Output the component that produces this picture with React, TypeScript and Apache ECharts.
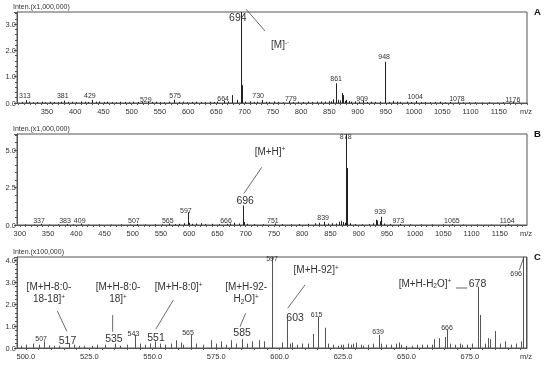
import React, { useEffect, useRef } from "react";
import * as echarts from "echarts";

// ---------------- Panel A (x1,000,000) ----------------
const xTicksA = [350, 400, 450, 500, 550, 600, 650, 700, 750, 800, 850, 900, 950, 1000, 1050, 1100, 1150];
const mainPeaksA: number[][] = [
  [694, 3.46], [695, 0.68], [678, 0.3], [686, 0.12],
  [948, 1.57], [949, 0.28], [861, 0.75], [862, 0.57], [857, 0.14], [866, 0.12], [873, 0.38], [875, 0.3], [880, 0.12],
  [313, 0.11], [381, 0.09], [429, 0.12], [529, 0.06], [575, 0.13], [664, 0.08], [730, 0.11], [779, 0.08],
  [909, 0.1], [1004, 0.08], [1078, 0.06], [1176, 0.06], [962, 0.08], [988, 0.05],
];
const minorPeaksA: number[][] = [
  [305, 0.04], [318, 0.05], [326, 0.03], [333, 0.04], [341, 0.05], [347, 0.03], [356, 0.05], [362, 0.04], [369, 0.03],
  [375, 0.05], [388, 0.04], [395, 0.05], [402, 0.04], [410, 0.06], [417, 0.05], [423, 0.04], [436, 0.05], [443, 0.06],
  [451, 0.04], [457, 0.05], [465, 0.04], [472, 0.03], [480, 0.05], [488, 0.04], [496, 0.03], [503, 0.05], [511, 0.04],
  [518, 0.03], [536, 0.04], [543, 0.05], [551, 0.04], [558, 0.03], [566, 0.05], [583, 0.04], [591, 0.05], [598, 0.03],
  [606, 0.04], [614, 0.05], [622, 0.04], [630, 0.03], [638, 0.05], [646, 0.04], [652, 0.05], [671, 0.06], [701, 0.05],
  [709, 0.06], [716, 0.04], [722, 0.05], [737, 0.05], [744, 0.04], [752, 0.06], [760, 0.04], [768, 0.03], [786, 0.04],
  [794, 0.05], [803, 0.04], [812, 0.05], [820, 0.04], [828, 0.05], [836, 0.06], [843, 0.05], [849, 0.07], [853, 0.06],
  [869, 0.1], [878, 0.08], [884, 0.07], [889, 0.05], [895, 0.06], [902, 0.05], [916, 0.04], [924, 0.05], [931, 0.04],
  [939, 0.05], [955, 0.04], [969, 0.05], [976, 0.04], [995, 0.04], [1012, 0.03], [1020, 0.04], [1028, 0.03], [1037, 0.04],
  [1046, 0.05], [1055, 0.03], [1064, 0.04], [1086, 0.03], [1097, 0.03], [1108, 0.03], [1120, 0.02], [1133, 0.03],
  [1146, 0.02], [1158, 0.03], [1168, 0.02], [1185, 0.02],
];
const smallLabelsA: [number, number, string][] = [
  [311, 0.27, "313"], [378, 0.27, "381"], [426, 0.3, "429"], [525, 0.15, "529"], [577, 0.3, "575"],
  [662, 0.19, "664"], [724, 0.27, "730"], [782, 0.19, "779"], [908, 0.19, "909"], [1002, 0.23, "1004"],
  [1076, 0.19, "1078"], [1175, 0.15, "1176"], [862, 0.95, "861"], [947, 1.75, "948"],
];
const bigLabelsA: [number, number, string][] = [[688, 3.28, "694"]];
const notesA: [number, number, string][] = [[763, 2.21, "[M]{p|-·}"]];
const leadersA: number[][] = [[702.5, 3.57, 736, 2.74]];

// ---------------- Panel B (x1,000,000) ----------------
const xTicksB = [300, 350, 400, 450, 500, 550, 600, 650, 700, 750, 800, 850, 900, 950, 1000, 1050, 1100, 1150];
const mainPeaksB: number[][] = [
  [878, 6.07], [879, 3.8], [696, 1.3], [697, 0.2], [597, 0.85], [598, 0.55], [939, 0.55], [937, 0.25],
];
const minorPeaksB: number[][] = [
  [310, 0.04], [325, 0.03], [337, 0.08], [352, 0.03], [368, 0.04], [383, 0.07], [395, 0.04], [409, 0.1], [421, 0.03],
  [440, 0.04], [462, 0.03], [480, 0.04], [495, 0.03], [507, 0.07], [522, 0.04], [540, 0.05], [552, 0.04], [565, 0.1],
  [575, 0.06], [582, 0.08], [590, 0.12], [600, 0.15], [605, 0.08], [612, 0.1], [620, 0.12], [628, 0.06], [640, 0.08],
  [652, 0.06], [666, 0.08], [672, 0.1], [680, 0.15], [688, 0.1], [702, 0.08], [715, 0.06], [730, 0.05], [751, 0.1],
  [765, 0.06], [780, 0.05], [795, 0.06], [810, 0.08], [822, 0.12], [830, 0.15], [839, 0.22], [845, 0.1], [852, 0.12],
  [860, 0.1], [866, 0.22], [869, 0.28], [872, 0.2], [875, 0.15], [884, 0.12], [893, 0.06], [905, 0.05], [918, 0.06],
  [925, 0.12], [930, 0.35], [933, 0.3], [945, 0.1], [955, 0.06], [973, 0.07], [990, 0.05], [1010, 0.04], [1030, 0.04],
  [1050, 0.04], [1065, 0.06], [1085, 0.03], [1110, 0.03], [1135, 0.03], [1164, 0.06], [1180, 0.03],
];
const smallLabelsB: [number, number, string][] = [
  [334, 0.27, "337"], [380, 0.27, "383"], [406, 0.33, "409"], [502, 0.27, "507"], [562, 0.27, "565"],
  [594, 1.0, "597"], [665, 0.27, "666"], [748, 0.33, "751"], [837, 0.47, "839"], [877, 5.87, "878"],
  [938, 0.87, "939"], [970, 0.27, "973"], [1065, 0.27, "1065"], [1163, 0.27, "1164"],
];
const bigLabelsB: [number, number, string][] = [[699, 1.67, "696"]];
const notesB: [number, number, string][] = [[743, 4.93, "[M+H]{p|+}"]];
const leadersB: number[][] = [[728.3, 3.85, 696.9, 2.11]];

// ---------------- Panel C (x100,000) ----------------
const xTicksC = [500, 525, 550, 575, 600, 625, 650, 675];
const mainPeaksC: number[][] = [
  [597, 4.14], [696, 4.14], [697, 4.14], [678, 2.79], [679, 1.5], [603, 1.27], [615, 1.42], [618, 0.92], [613, 0.64],
  [639, 0.6], [666, 0.82], [665, 0.5], [663, 0.45], [661, 0.4], [685, 0.77], [682, 0.45], [683, 0.4],
  [543, 0.6], [565, 0.6], [585, 0.4], [551, 0.3], [507, 0.3],
];
const minorPeaksC: number[][] = [
  [498, 0.1], [500, 0.15], [503, 0.2], [505, 0.15], [509, 0.12], [511, 0.1], [513, 0.1], [517, 0.2], [519, 0.15],
  [521, 0.1], [523, 0.1], [526, 0.1], [528, 0.15], [531, 0.15], [535, 0.2], [537, 0.1], [540, 0.15], [545, 0.2],
  [547, 0.15], [549, 0.2], [553, 0.2], [555, 0.15], [557, 0.2], [559, 0.35], [561, 0.25], [562, 0.15], [567, 0.2],
  [570, 0.15], [573, 0.35], [575, 0.2], [577, 0.3], [579, 0.15], [581, 0.35], [583, 0.2], [587, 0.2], [589, 0.3],
  [592, 0.35], [594, 0.3], [601, 0.25], [604, 0.2], [605, 0.25], [607, 0.15], [609, 0.2], [611, 0.2], [619, 0.2],
  [621, 0.15], [623, 0.1], [624, 0.15], [625, 0.15], [627, 0.2], [628, 0.15], [629, 0.2], [630, 0.25], [632, 0.15],
  [633, 0.1], [635, 0.15], [637, 0.2], [640, 0.2], [642, 0.15], [644, 0.15], [646, 0.2], [647, 0.25], [648, 0.15],
  [650, 0.1], [652, 0.1], [654, 0.15], [656, 0.15], [658, 0.15], [660, 0.15], [667, 0.2], [669, 0.15], [671, 0.2],
  [672, 0.15], [674, 0.15], [676, 0.2], [681, 0.2], [687, 0.2], [689, 0.3], [691, 0.15], [693, 0.2], [695, 0.3],
];
const smallLabelsC: [number, number, string][] = [
  [506, 0.41, "507"], [542.4, 0.68, "543"], [563.9, 0.71, "565"], [597, 4.09, "597"], [614.6, 1.53, "615"],
  [638.8, 0.74, "639"], [666, 0.92, "666"], [693.2, 3.4, "696"],
];
const bigLabelsC: [number, number, string][] = [
  [516.4, 0.36, "517"], [534.7, 0.45, "535"], [551.3, 0.51, "551"], [585.2, 0.71, "585"], [606.1, 1.42, "603"],
  [678, 2.94, "678"],
];
const notesC: [number, number, string][] = [
  [509.1, 2.51, "[M+H-8:0-\n18-18]{p|+}"],
  [536.3, 2.51, "[M+H-8:0-\n18]{p|+}"],
  [560.2, 2.79, "[M+H-8:0]{p|+}"],
  [586.8, 2.51, "[M+H-92-\nH{b|2}O]{p|+}"],
  [614.4, 3.55, "[M+H-92]{p|+}"],
  [657.3, 2.94, "[M+H-H{b|2}O]{p|+}"],
];
const leadersC: number[][] = [
  [512.4, 1.68, 516.1, 0.77],
  [534.2, 1.5, 534.2, 0.74],
  [558.1, 2.18, 551.2, 0.86],
  [586.6, 1.58, 584.4, 0.97],
  [610, 2.87, 603.2, 1.81],
  [669.5, 2.73, 673.9, 2.73],
  [694.5, 3.55, 696.3, 4.15],
];

const FONT = "'Liberation Sans', Arial, sans-serif";
const TEXT = "#333";

const panels = [
  { letter: "A", unit: "Inten.(x1,000,000)", top: 12, xMin: 297, xMax: 1200, yMax: 3.46, yInt: 1, xTicks: xTicksA, xDec: 0, tickStep: 10,
    peaks: [...minorPeaksA, ...mainPeaksA], color: "#222", small: smallLabelsA, big: bigLabelsA, notes: notesA, leaders: leadersA },
  { letter: "B", unit: "Inten.(x1,000,000)", top: 134, xMin: 295, xMax: 1198, yMax: 6.07, yInt: 2.5, xTicks: xTicksB, xDec: 0, tickStep: 10,
    peaks: [...minorPeaksB, ...mainPeaksB], color: "#222", small: smallLabelsB, big: bigLabelsB, notes: notesB, leaders: leadersB },
  { letter: "C", unit: "Inten.(x100,000)", top: 257, xMin: 496.5, xMax: 697.5, yMax: 4.14, yInt: 1, xTicks: xTicksC, xDec: 1, tickStep: 5,
    peaks: [...minorPeaksC, ...mainPeaksC], color: "#555", small: smallLabelsC, big: bigLabelsC, notes: notesC, leaders: leadersC },
];

const GRID_LEFT = 17;
const GRID_RIGHT = 23;
const GRID_H = 91;

function textSeries(gi: number, items: [number, number, string][], fontSize: number, lineHeight: number) {
  const sub = fontSize * 0.65;
  return {
    type: "custom",
    xAxisIndex: gi,
    yAxisIndex: gi,
    z: 5,
    silent: true,
    itemStyle: { color: TEXT },
    encode: { x: 0, y: 1 },
    data: items.map((d) => [d[0], d[1]]),
    renderItem: (params: any, api: any) => {
      const p = api.coord([api.value(0), api.value(1)]);
      const item = items[params.dataIndex];
      return {
        type: "text",
        x: p[0],
        y: p[1],
        style: {
          text: item[2],
          fill: TEXT,
          fontSize,
          fontFamily: FONT,
          align: "center",
          verticalAlign: "middle",
          lineHeight,
          rich: {
            p: { fontSize: sub, verticalAlign: "top", lineHeight, fontFamily: FONT, fill: TEXT },
            b: { fontSize: sub, verticalAlign: "bottom", lineHeight, fontFamily: FONT, fill: TEXT },
          },
        },
      };
    },
  };
}

export default function App() {
  const ref = useRef<HTMLDivElement>(null);
  useEffect(() => {
    if (!ref.current) return;
    const chart = echarts.init(ref.current, undefined, { renderer: "svg" });
    const grid: any[] = [];
    const xAxis: any[] = [];
    const yAxis: any[] = [];
    const series: any[] = [];
    const graphic: any[] = [];

    panels.forEach((pn, gi) => {
      grid.push({
        left: GRID_LEFT, right: GRID_RIGHT, top: pn.top, height: GRID_H,
        show: true, borderColor: "#555", borderWidth: 1, backgroundColor: "transparent",
      });
      const minorTicks: number[] = [];
      for (let v = Math.ceil(pn.xMin / pn.tickStep) * pn.tickStep; v <= pn.xMax; v += pn.tickStep) minorTicks.push(v);
      xAxis.push({
        type: "value", gridIndex: gi, min: pn.xMin, max: pn.xMax,
        axisLine: { show: true, lineStyle: { color: "#555", width: 1 } },
        axisTick: { show: true, customValues: minorTicks, length: 2, lineStyle: { color: "#555" } },
        axisLabel: {
          show: true, customValues: pn.xTicks, margin: 4, fontSize: 7.5, color: TEXT, fontFamily: FONT,
          formatter: (v: number) => v.toFixed(pn.xDec),
        },
        splitLine: { show: false },
      });
      yAxis.push({
        type: "value", gridIndex: gi, min: 0, max: pn.yMax, interval: pn.yInt,
        axisLine: { show: true, lineStyle: { color: "#555", width: 1 } },
        axisTick: { show: true, length: 3, lineStyle: { color: "#555" } },
        minorTick: { show: true, splitNumber: 5, length: 2, lineStyle: { color: "#555" } },
        axisLabel: {
          show: true, margin: 1, fontSize: 7.5, color: TEXT, fontFamily: FONT, showMaxLabel: false,
          formatter: (v: number) => v.toFixed(1),
        },
        splitLine: { show: false },
      });
      const color = pn.color;
      series.push({
        type: "custom", xAxisIndex: gi, yAxisIndex: gi, silent: true, encode: { x: 0, y: 1 },
        itemStyle: { color },
        data: pn.peaks,
        renderItem: (params: any, api: any) => {
          const x = api.value(0);
          const y = api.value(1);
          const p0 = api.coord([x, 0]);
          const p1 = api.coord([x, y]);
          const cs = params.coordSys;
          const px = Math.round(p0[0]) + 0.5;
          return {
            type: "line",
            shape: { x1: px, y1: p0[1], x2: px, y2: Math.max(p1[1], cs.y) },
            style: { stroke: color, lineWidth: 1 },
          };
        },
      });
      series.push({
        type: "custom", xAxisIndex: gi, yAxisIndex: gi, silent: true, z: 4, encode: { x: [0, 2], y: [1, 3] },
        itemStyle: { color: "#444" },
        data: pn.leaders,
        renderItem: (params: any, api: any) => {
          const a = api.coord([api.value(0), api.value(1)]);
          const b = api.coord([api.value(2), api.value(3)]);
          return { type: "line", shape: { x1: a[0], y1: a[1], x2: b[0], y2: b[1] }, style: { stroke: "#444", lineWidth: 0.8 } };
        },
      });
      series.push(textSeries(gi, pn.small, 7, 8));
      series.push(textSeries(gi, pn.big, 10.5, 12));
      series.push(textSeries(gi, pn.notes, 10, 12));

      graphic.push({
        type: "text", left: 13, top: pn.top - 9,
        style: { text: pn.unit, fontSize: 7, fill: TEXT, fontFamily: FONT },
      });
      graphic.push({
        type: "text", left: 534, top: pn.top - 6,
        style: { text: pn.letter, fontSize: 9.5, fontWeight: "bold", fill: "#111", fontFamily: FONT },
      });
      graphic.push({
        type: "text", left: 520, top: pn.top + GRID_H + 4,
        style: { text: "m/z", fontSize: 7.5, fill: TEXT, fontFamily: FONT },
      });
    });

    chart.setOption({
      animation: false,
      backgroundColor: "#fff",
      color: [TEXT],
      grid, xAxis, yAxis, series, graphic,
    });
    return () => chart.dispose();
  }, []);
  return (
    <div
      ref={ref}
      style={{
        position: "absolute", left: 0, top: 0, width: 550, height: 368,
        willChange: "transform", WebkitFontSmoothing: "antialiased",
      } as any}
    />
  );
}
